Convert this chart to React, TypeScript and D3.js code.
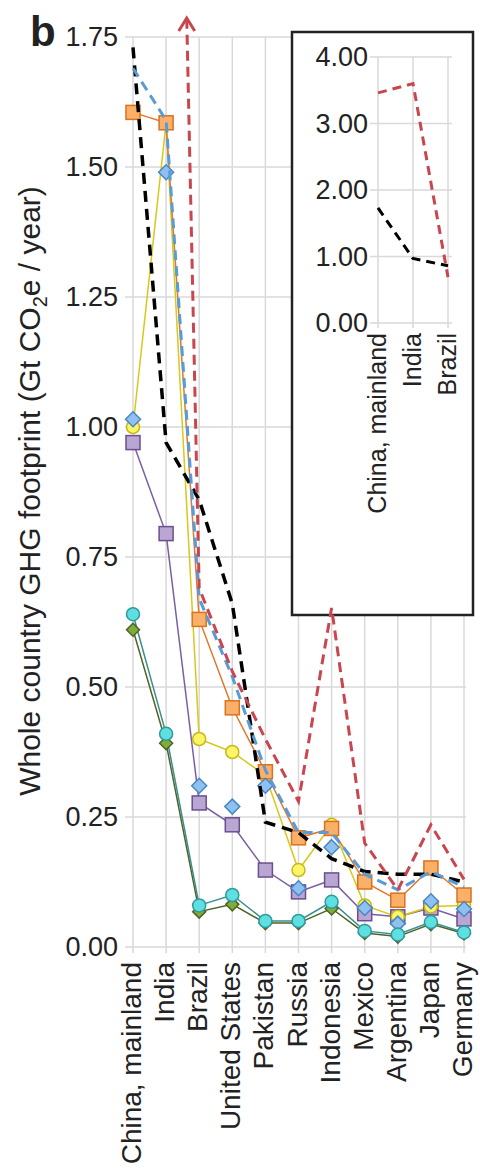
import React from "react";
import * as d3 from "d3";

const categories = ["China, mainland", "India", "Brazil", "United States", "Pakistan", "Russia", "Indonesia", "Mexico", "Argentina", "Japan", "Germany"];
const yTicks = [0, 0.25, 0.5, 0.75, 1.0, 1.25, 1.5, 1.75];
const insetTicks = [0, 1, 2, 3, 4];

const blackDashed = [1.73, 0.97, 0.86, 0.66, 0.24, 0.22, 0.17, 0.145, 0.14, 0.14, 0.125];
const redDashed = [3.46, 3.6, 0.69, 0.53, 0.40, 0.28, 0.652, 0.20, 0.11, 0.235, 0.13];
const blueDashed = [1.69, 1.59, 0.67, 0.52, 0.34, 0.22, 0.22, 0.14, 0.11, 0.145, 0.115];
const orangeSquares = [1.605, 1.585, 0.63, 0.46, 0.337, 0.21, 0.228, 0.125, 0.09, 0.152, 0.10];
const yellowCircles = [1.0, 1.585, 0.40, 0.375, 0.33, 0.148, 0.235, 0.08, 0.058, 0.078, 0.08];
const purpleSquares = [0.97, 0.795, 0.277, 0.235, 0.148, 0.106, 0.129, 0.064, 0.058, 0.075, 0.054];
const blueDiamonds = [1.015, 1.49, 0.31, 0.27, 0.31, 0.113, 0.192, 0.075, 0.045, 0.088, 0.073];
const cyanCircles = [0.64, 0.41, 0.08, 0.10, 0.05, 0.05, 0.087, 0.031, 0.024, 0.048, 0.028];
const greenDiamonds = [0.61, 0.392, 0.068, 0.082, 0.046, 0.046, 0.074, 0.027, 0.02, 0.044, 0.026];

const insetCategories = categories.slice(0, 3);
const insetBlack = blackDashed.slice(0, 3);
const insetRed = redDashed.slice(0, 3);

const FONT = "'Liberation Sans', Arial, sans-serif";
const GRID = "#d9d9d9";

export default function App() {
  const x = d3.scalePoint<string>().domain(categories).range([133, 464]);
  const y = d3.scaleLinear().domain([0, 1.75]).range([947, 37]);
  const xi = d3.scalePoint<string>().domain(insetCategories).range([378, 448]);
  const yi = d3.scaleLinear().domain([0, 4]).range([323, 57]);

  const line = (vals: number[]) =>
    d3.line<number>().x((_, i) => x(categories[i]) as number).y((v) => y(v))(vals) || "";
  const lineI = (vals: number[]) =>
    d3.line<number>().x((_, i) => xi(insetCategories[i]) as number).y((v) => yi(v))(vals) || "";

  // arrow where red line leaves the top of the plot (India -> Brazil segment)
  const arrowY = 18;
  const x1 = x(categories[1]) as number, y1 = y(redDashed[1]);
  const x2 = x(categories[2]) as number, y2 = y(redDashed[2]);
  const arrowX = x1 + ((arrowY - y1) / (y2 - y1)) * (x2 - x1);

  const fmt = d3.format(".2f");

  const square = (vals: number[], fill: string, stroke: string, key: string, s = 14) =>
    vals.map((v, i) => (
      <rect key={key + i} x={(x(categories[i]) as number) - s / 2} y={y(v) - s / 2} width={s} height={s}
        fill={fill} stroke={stroke} strokeWidth={1.5} />
    ));
  const circle = (vals: number[], fill: string, stroke: string, key: string, r = 6.5) =>
    vals.map((v, i) => (
      <circle key={key + i} cx={x(categories[i]) as number} cy={y(v)} r={r} fill={fill} stroke={stroke} strokeWidth={1.5} />
    ));
  const diamond = (vals: number[], fill: string, stroke: string, key: string, h = 7.5) =>
    vals.map((v, i) => {
      const cx = x(categories[i]) as number, cy = y(v);
      return (
        <path key={key + i} d={`M${cx},${cy - h}L${cx + h},${cy}L${cx},${cy + h}L${cx - h},${cy}Z`}
          fill={fill} stroke={stroke} strokeWidth={1.5} />
      );
    });

  return (
    <svg width={480} height={1171} style={{ position: "absolute", left: 0, top: 0, background: "#fff" }} fontFamily={FONT}>
      <defs>
        <clipPath id="mainClip">
          <rect x={110} y={arrowY + 2} width={370} height={950} />
        </clipPath>
        <clipPath id="insetClip">
          <rect x={360} y={40} width={110} height={300} />
        </clipPath>
      </defs>
      <rect x={0} y={0} width={480} height={1171} fill="#fff" />

      {/* main grid */}
      {yTicks.map((t) => (
        <g key={"gy" + t}>
          <line x1={125} x2={466} y1={y(t)} y2={y(t)} stroke={GRID} strokeWidth={1.5} />
          <text x={118} y={y(t)} dy="0.35em" textAnchor="end" fontSize={27} fill="#222">{fmt(t)}</text>
        </g>
      ))}
      {categories.map((c) => (
        <line key={"gx" + c} x1={x(c) as number} x2={x(c) as number} y1={y(1.75)} y2={953} stroke={GRID} strokeWidth={1.5} />
      ))}

      {/* inset frame (drawn under main series) */}
      <rect x={292} y={32} width={181} height={583} fill="#fff" stroke="#222" strokeWidth={2.5} />

      {/* series */}
      <g clipPath="url(#mainClip)">
        <path d={line(greenDiamonds)} fill="none" stroke="#4f6228" strokeWidth={1.5} />
        <path d={line(cyanCircles)} fill="none" stroke="#3a8f8a" strokeWidth={1.5} />
        <path d={line(purpleSquares)} fill="none" stroke="#7b5fa0" strokeWidth={1.5} />
        <path d={line(yellowCircles)} fill="none" stroke="#d8c81a" strokeWidth={1.5} />
        <path d={line(orangeSquares)} fill="none" stroke="#e0782a" strokeWidth={1.5} />
        {square(purpleSquares, "#b9a6d3", "#6a4f8f", "p")}
        {circle(yellowCircles, "#fbf56a", "#c9b81a", "yl")}
        {square(orangeSquares, "#fbb06a", "#d9721f", "o")}
        {diamond(blueDiamonds, "#8fc1f0", "#4a86c5", "bd")}
        {diamond(greenDiamonds, "#7dae3a", "#4f6228", "g", 6.5)}
        {circle(cyanCircles, "#5fe0e0", "#2f9a9f", "c")}
        <path d={line(blackDashed)} fill="none" stroke="#000" strokeWidth={3.5} strokeDasharray="11,7" />
        <path d={line(blueDashed)} fill="none" stroke="#5b9bd5" strokeWidth={3} strokeDasharray="10,6" />
        <path d={line(redDashed)} fill="none" stroke="#c8464f" strokeWidth={3} strokeDasharray="10,6" />
      </g>
      <path d={`M${arrowX - 8},${arrowY + 13}L${arrowX},${arrowY}L${arrowX + 8},${arrowY + 13}`} fill="none"
        stroke="#c8464f" strokeWidth={3} />

      {/* x labels */}
      {categories.map((c) => (
        <text key={"xl" + c} transform={`translate(${(x(c) as number) + 8},962) rotate(-90)`} textAnchor="end"
          fontSize={28} fill="#222">{c}</text>
      ))}

      {/* y label */}
      <text transform="translate(40,491) rotate(-90)" textAnchor="middle" fontSize={30} fill="#222">
        Whole country GHG footprint (Gt CO<tspan fontSize={20} dy={7}>2</tspan><tspan dy={-7}>e / year)</tspan>
      </text>

      <text x={30} y={46} fontSize={42} fontWeight="bold" fill="#222">b</text>

      {/* inset content */}
      {insetTicks.map((t) => (
        <g key={"igy" + t}>
          <line x1={370} x2={452} y1={yi(t)} y2={yi(t)} stroke={GRID} strokeWidth={1.5} />
          <text x={368} y={yi(t)} dy="0.35em" textAnchor="end" fontSize={27} fill="#222">{fmt(t)}</text>
        </g>
      ))}
      {insetCategories.map((c) => (
        <line key={"igx" + c} x1={xi(c) as number} x2={xi(c) as number} y1={yi(4)} y2={328} stroke={GRID} strokeWidth={1.5} />
      ))}
      <g clipPath="url(#insetClip)">
        <path d={lineI(insetBlack)} fill="none" stroke="#000" strokeWidth={3} strokeDasharray="9,6" />
        <path d={lineI(insetRed)} fill="none" stroke="#c8464f" strokeWidth={3} strokeDasharray="9,6" />
      </g>
      {insetCategories.map((c) => (
        <text key={"ixl" + c} transform={`translate(${(xi(c) as number) + 8},333) rotate(-90)`} textAnchor="end"
          fontSize={25} fill="#222">{c}</text>
      ))}
    </svg>
  );
}
